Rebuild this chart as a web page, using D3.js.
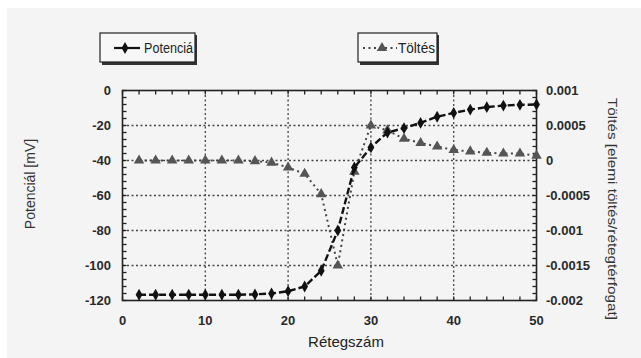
<!DOCTYPE html>
<html><head><meta charset="utf-8">
<script src="https://cdn.jsdelivr.net/npm/d3@7"></script>
<style>
html,body{margin:0;padding:0;background:#fff;}
svg{display:block;font-family:"Liberation Sans",Arial,sans-serif;}
</style></head>
<body><svg id="c" width="641" height="358"></svg>
<script>
const layers = [2,4,6,8,10,12,14,16,18,20,22,24,26,28,30,32,34,36,38,40,42,44,46,48,50];
const potential = [-116.7,-116.7,-116.7,-116.7,-116.7,-116.7,-116.7,-116.5,-116,-114.7,-112,-103,-80,-44,-32.5,-24,-21.5,-18.5,-15,-12.8,-10.9,-9.5,-8.6,-8.2,-8];
const charge = [0,0,0,0,0,0,0,-0.00001,-0.00003,-0.0001,-0.00019,-0.00048,-0.0015,-0.00016,0.0005,0.00043,0.00031,0.00025,0.0002,0.00015,0.00013,0.00011,0.0001,0.0001,0.00007];
const xTicks = [0,10,20,30,40,50];
const yLeftTicks = [0,-20,-40,-60,-80,-100,-120];
const yRightTicks = [0.001,0.0005,0,-0.0005,-0.001,-0.0015,-0.002];
const yRightLabels = ["0.001","0.0005","0","-0.0005","-0.001","-0.0015","-0.002"];
const seriesNames = ["Potenciá","Töltés"];

const svg = d3.select("#c");
svg.append("rect").attr("x",7).attr("y",8).attr("width",634).attr("height",350).attr("fill","#f4f4f4");

const L=122.5,R=536.5,T=90.5,B=300.5;
const x = d3.scaleLinear().domain([0,50]).range([L,R]);
const yL = d3.scaleLinear().domain([-120,0]).range([B,T]);
const yR = d3.scaleLinear().domain([-0.002,0.001]).range([B,T]);

// gridlines
const g = svg.append("g");
g.selectAll(".vg").data([10,20,30,40]).join("line")
 .attr("x1",d=>x(d)).attr("x2",d=>x(d)).attr("y1",T).attr("y2",B)
 .attr("stroke","#444").attr("stroke-width",1.3).attr("stroke-dasharray","2,2.5");
g.selectAll(".hg").data([-20,-40,-60,-80,-100]).join("line")
 .attr("x1",L).attr("x2",R).attr("y1",d=>yL(d)).attr("y2",d=>yL(d))
 .attr("stroke","#444").attr("stroke-width",1.3).attr("stroke-dasharray","2,2.5");

// minor ticks inside
const xt = d3.range(0,51,2);
g.selectAll(".tt").data(xt).join("line").attr("x1",d=>x(d)).attr("x2",d=>x(d)).attr("y1",T).attr("y2",T+4).attr("stroke","#222").attr("stroke-width",1.3);
g.selectAll(".bt").data(xt).join("line").attr("x1",d=>x(d)).attr("x2",d=>x(d)).attr("y1",B).attr("y2",B-4).attr("stroke","#222").attr("stroke-width",1.3);
const ylt = d3.range(-120,1,4);
g.selectAll(".lt").data(ylt).join("line").attr("y1",d=>yL(d)).attr("y2",d=>yL(d)).attr("x1",L).attr("x2",L+4).attr("stroke","#222").attr("stroke-width",1.3);
const yrt = d3.range(-20,11,1).map(v=>v/10000);
g.selectAll(".rt").data(yrt).join("line").attr("y1",d=>yR(d)).attr("y2",d=>yR(d)).attr("x1",R).attr("x2",R-4).attr("stroke","#222").attr("stroke-width",1.3);

// frame
svg.append("rect").attr("x",L).attr("y",T).attr("width",R-L).attr("height",B-T).attr("fill","none").attr("stroke","#222").attr("stroke-width",1.6);

// tick labels
const fs = "13px", fw = "bold", fc = "#2a2a2a";
svg.append("g").selectAll("text").data(xTicks).join("text")
 .attr("x",d=>x(d)).attr("y",325).attr("text-anchor","middle").attr("font-size",fs).attr("font-weight",fw).attr("fill",fc).text(d=>d);
svg.append("g").selectAll("text").data(yLeftTicks).join("text")
 .attr("x",111).attr("y",d=>yL(d)+4.5).attr("text-anchor","end").attr("font-size",fs).attr("font-weight",fw).attr("fill",fc).text(d=>d);
svg.append("g").selectAll("text").data(yRightTicks).join("text")
 .attr("x",546).attr("y",d=>yR(d)+4.5).attr("text-anchor","start").attr("font-size",fs).attr("font-weight",fw).attr("fill",fc).text((d,i)=>yRightLabels[i]);

// axis titles
svg.append("text").attr("transform","translate(35,184) rotate(-90)").attr("text-anchor","middle").attr("font-size","14px").attr("fill","#333").text("Potenciál [mV]");
svg.append("text").attr("transform","translate(608,209) rotate(90)").attr("text-anchor","middle").attr("font-size","13.5px").attr("fill","#333")
 .attr("textLength",222).attr("lengthAdjust","spacingAndGlyphs").text("Töltés [elemi töltés/rétegtérfogat]");
svg.append("text").attr("x",346).attr("y",347).attr("text-anchor","middle").attr("font-size","15px").attr("fill","#222").text("Rétegszám");

// series
const diamond = d3.symbol().type(d3.symbolDiamond).size(40);
const tri = d3.symbol().type(d3.symbolTriangle).size(48);

svg.append("path").datum(layers.map((l,i)=>[l,charge[i]]))
 .attr("d",d3.line().x(d=>x(d[0])).y(d=>yR(d[1])))
 .attr("fill","none").attr("stroke","#444").attr("stroke-width",2).attr("stroke-dasharray","2,3.5");
svg.append("g").selectAll("path").data(layers).join("path")
 .attr("transform",(d,i)=>`translate(${x(d)},${yR(charge[i])})`).attr("d",tri).attr("fill","#555");

svg.append("path").datum(layers.map((l,i)=>[l,potential[i]]))
 .attr("d",d3.line().x(d=>x(d[0])).y(d=>yL(d[1])))
 .attr("fill","none").attr("stroke","#111").attr("stroke-width",2.4).attr("stroke-dasharray","7,3");
svg.append("g").selectAll("path").data(layers).join("path")
 .attr("transform",(d,i)=>`translate(${x(d)},${yL(potential[i])})`).attr("d",diamond).attr("fill","#111");

// legends
function legend(x0,w,name,kind){
  const lg = svg.append("g");
  lg.append("rect").attr("x",x0+2).attr("y",35).attr("width",w).attr("height",30).attr("fill","#333");
  lg.append("rect").attr("x",x0).attr("y",33).attr("width",w).attr("height",29).attr("fill","#f7f7f7").attr("stroke","#222").attr("stroke-width",1.2);
  if(kind===0){
    lg.append("line").attr("x1",x0+14).attr("x2",x0+40).attr("y1",48).attr("y2",48).attr("stroke","#111").attr("stroke-width",2.2);
    lg.append("path").attr("transform",`translate(${x0+25},48)`).attr("d",diamond).attr("fill","#111");
    lg.append("text").attr("x",x0+44).attr("y",53).attr("font-size","14px").attr("fill","#222")
      .attr("textLength",49).attr("lengthAdjust","spacingAndGlyphs").text(name);
  } else {
    lg.append("line").attr("x1",x0+5).attr("x2",x0+39).attr("y1",48).attr("y2",48).attr("stroke","#444").attr("stroke-width",2).attr("stroke-dasharray","2,3.5");
    lg.append("path").attr("transform",`translate(${x0+24},48)`).attr("d",tri).attr("fill","#555");
    lg.append("text").attr("x",x0+40).attr("y",53).attr("font-size","14px").attr("fill","#222")
      .attr("textLength",37).attr("lengthAdjust","spacingAndGlyphs").text(name);
  }
}
legend(100,95,seriesNames[0],0);
legend(358,79,seriesNames[1],1);
</script></body></html>
